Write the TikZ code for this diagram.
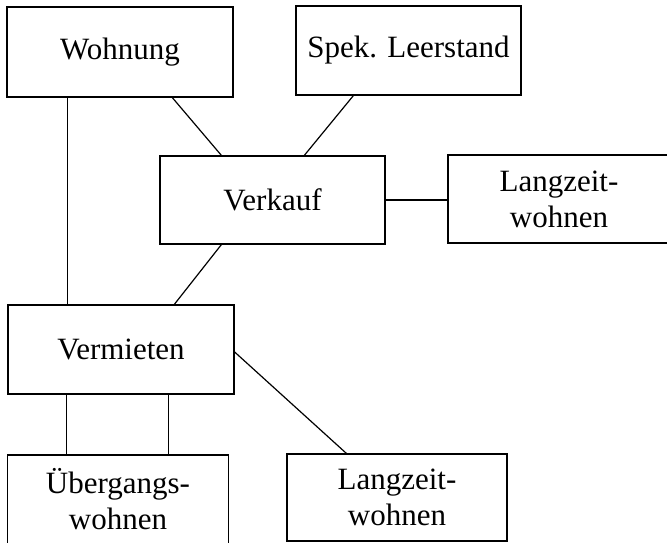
\documentclass[tikz,border=0pt]{standalone}
\usepackage{fontspec}
\setmainfont{Liberation Serif}
\begin{document}
\begin{tikzpicture}[x=1pt,y=-1pt,
  box/.style={draw, line width=1.3pt, rectangle, inner sep=0pt, align=center,
    font=\fontsize{31}{36}\selectfont},
  conn/.style={line width=1.2pt}]
\useasboundingbox (0,0) rectangle (667,542);
\clip (0,0) rectangle (667,542);
\node[box, minimum width=226pt, minimum height=90pt] (wohnung) at (120,52) {Wohnung};
\node[box, minimum width=225pt, minimum height=89pt] (spek) at (408.5,50.5) {Spek. Leerstand};
\node[box, minimum width=225pt, minimum height=88pt] (verkauf) at (272.5,200) {Verkauf};
\node[box, minimum width=222pt, minimum height=88pt] (langr) at (559,199) {Langzeit-\\wohnen};
\node[box, minimum width=226pt, minimum height=89pt] (vermieten) at (121,349.5) {Vermieten};
\node[box, draw=none, minimum width=220pt, minimum height=87pt] (uebergang) at (118,499) {Übergangs-\\wohnen};
\draw[line width=1.3pt] ([yshift=-30pt]uebergang.south west) -- (uebergang.north west)
  -- (uebergang.north east) -- ([yshift=-30pt]uebergang.south east);
\node[box, minimum width=220pt, minimum height=87pt] (langb) at (397,497.5) {Langzeit-\\wohnen};
\draw[conn] ([xshift=61pt]wohnung.south west) -- ([xshift=60pt]vermieten.north west);
\draw[conn] ([xshift=166pt]wohnung.south west) -- ([xshift=62pt]verkauf.north west);
\draw[conn] ([xshift=58pt]spek.south west) -- ([xshift=145pt]verkauf.north west);
\draw[conn] (verkauf.east) -- (verkauf.east -| langr.west);
\draw[conn] ([xshift=62pt]verkauf.south west) -- ([xshift=167pt]vermieten.north west);
\draw[conn] ([yshift=-2.5pt]vermieten.east) -- ([xshift=60pt]langb.north west);
\draw[conn] ([xshift=59pt]vermieten.south west) -- ([xshift=59pt]uebergang.north west);
\draw[conn] ([xshift=161pt]vermieten.south west) -- ([xshift=161pt]uebergang.north west);
\end{tikzpicture}
\end{document}
